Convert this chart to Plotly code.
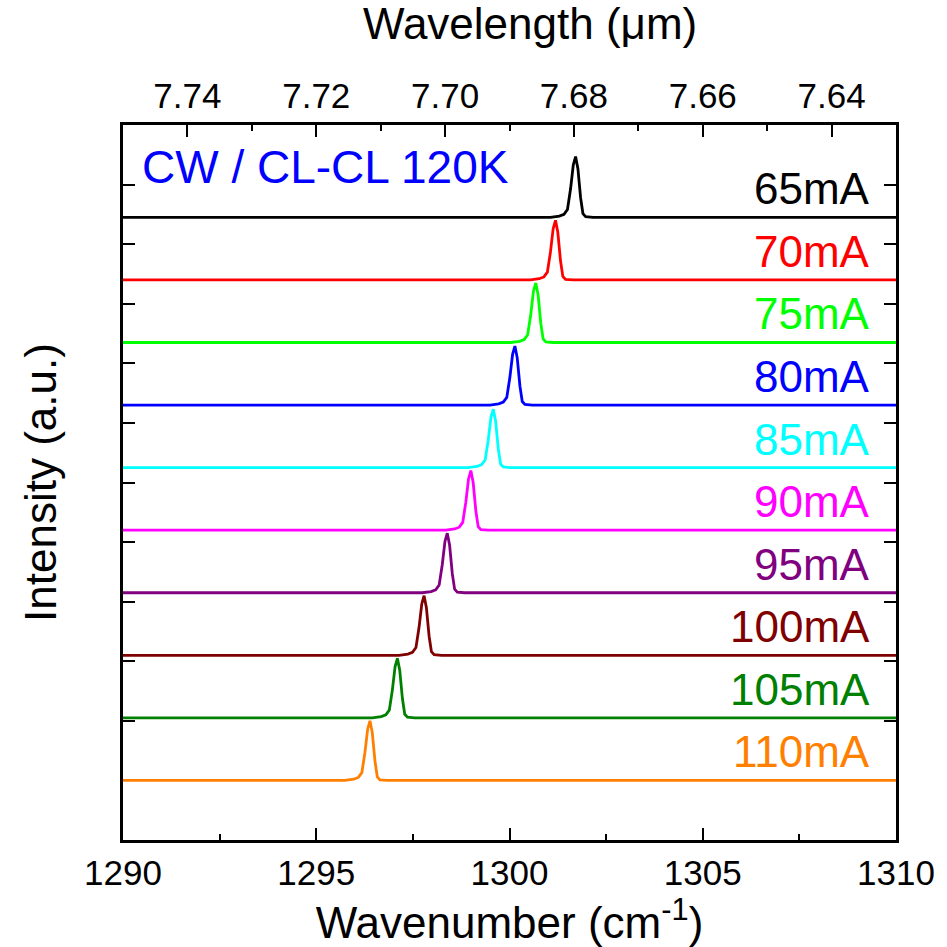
import plotly.graph_objects as go

# ---- data ----
currents = ["65mA", "70mA", "75mA", "80mA", "85mA", "90mA", "95mA", "100mA", "105mA", "110mA"]
colors = ["#000000", "#FF0000", "#00FF00", "#0000FF", "#00FFFF",
          "#FF00FF", "#800080", "#800000", "#008000", "#FF8000"]
peak_wavenumber = [1301.71, 1301.19, 1300.68, 1300.14, 1299.58,
                   1299.00, 1298.39, 1297.79, 1297.10, 1296.39]
peak_height = [0.51, 0.50, 0.50, 0.495, 0.49, 0.50, 0.50, 0.50, 0.50, 0.50]
baseline_offset = [4.725, 4.20, 3.675, 3.15, 2.625, 2.10, 1.575, 1.05, 0.525, 0.0]

# shared line-shape of a lasing peak (offset from peak in cm^-1, relative intensity)
profile_offset = [-0.65, -0.42, -0.30, -0.21, -0.13, -0.06, 0.0, 0.06, 0.13, 0.19, 0.26, 0.45]
profile_rel = [0.0, 0.02, 0.05, 0.13, 0.47, 0.86, 1.0, 0.80, 0.32, 0.06, 0.01, 0.0]

wavenumber_range = [1290, 1310]
wavelength_range = [7.75, 7.63]

FONT = "Liberation Sans, Arial, sans-serif"

fig = go.Figure()
for name, col, pk, h, off in zip(currents, colors, peak_wavenumber, peak_height, baseline_offset):
    xs = [wavenumber_range[0]] + [pk + d for d in profile_offset] + [wavenumber_range[1]]
    ys = [off] + [off + h * r for r in profile_rel] + [off]
    fig.add_trace(go.Scatter(x=xs, y=ys, mode="lines", name=name,
                             line=dict(color=col, width=2.8), showlegend=False))
    fig.add_annotation(x=0.969, xref="paper", y=off + 0.24, yref="y",
                       text=name, showarrow=False, xanchor="right", yanchor="middle",
                       font=dict(family=FONT, size=44, color=col))

# invisible helper trace so the top (wavelength) axis is drawn
fig.add_trace(go.Scatter(x=wavelength_range, y=[-0.5, -0.5], xaxis="x2", yaxis="y",
                         mode="lines", line=dict(width=0), opacity=0,
                         hoverinfo="skip", showlegend=False))

fig.add_annotation(x=0.022, xref="paper", y=0.9406, yref="paper",
                   text="CW / CL-CL 120K", showarrow=False, xanchor="left", yanchor="middle",
                   font=dict(family=FONT, size=46, color="#0000FF"))

# top axis title (slightly off-centre in the original)
fig.add_annotation(x=0.5265, xref="paper", y=1.1413, yref="paper",
                   text="Wavelength (\u03bcm)", showarrow=False, xanchor="center", yanchor="middle",
                   font=dict(family=FONT, size=44, color="black"))

axis_common = dict(showline=True, linecolor="black", linewidth=2.5, ticks="inside",
                   tickcolor="black", tickwidth=2, showgrid=False, zeroline=False,
                   layer="below traces",
                   tickfont=dict(family=FONT, size=35, color="black"))

fig.update_layout(
    width=947, height=947,
    margin=dict(l=123, r=49, t=125, b=107),
    paper_bgcolor="white", plot_bgcolor="white",
    font=dict(family=FONT, color="black"),
    xaxis=dict(range=wavenumber_range, dtick=5, ticklen=12, mirror=True,
               minor=dict(dtick=2.5, ticklen=6, ticks="inside", tickcolor="black", tickwidth=2),
               title=dict(text="Wavenumber (cm<sup>-1</sup>)", font=dict(family=FONT, size=44), standoff=8),
               **axis_common),
    xaxis2=dict(range=wavelength_range, overlaying="x", side="top", anchor="y",
                dtick=0.02, tick0=7.64, tickformat=".2f", ticklen=12,
                minor=dict(dtick=0.01, ticklen=6, ticks="inside", tickcolor="black", tickwidth=2),
                **axis_common),
    yaxis=dict(range=[-0.5, 5.5], dtick=1, tick0=0, ticklen=12, mirror="allticks",
               showticklabels=False,
               minor=dict(dtick=0.5, ticklen=6, ticks="inside", tickcolor="black", tickwidth=2),
               title=dict(text="Intensity (a.u.)", font=dict(family=FONT, size=44), standoff=50),
               **axis_common),
)

fig.write_html("out.html")
